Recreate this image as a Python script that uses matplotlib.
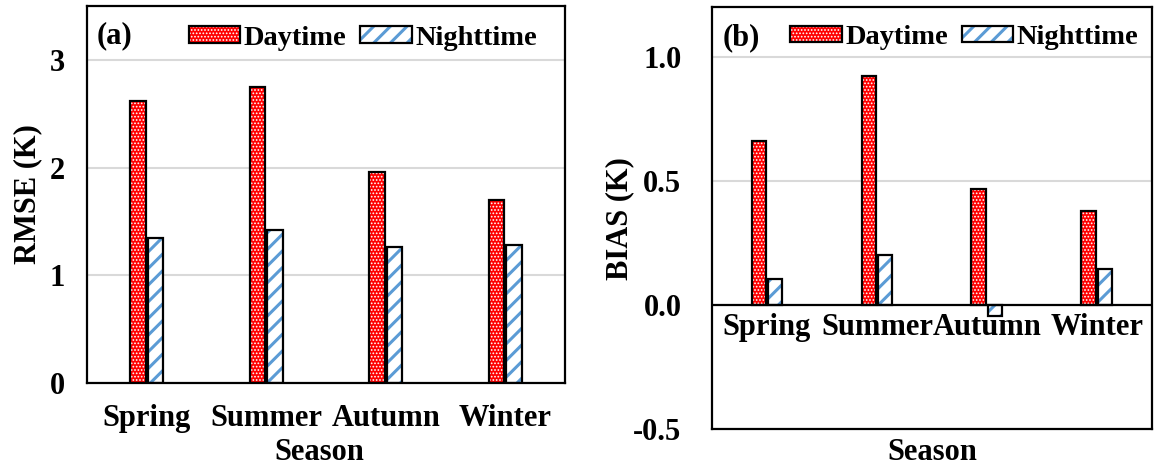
import matplotlib
matplotlib.use("Agg")
import matplotlib.pyplot as plt
import numpy as np
from matplotlib.patches import Patch, Rectangle
from matplotlib.legend_handler import HandlerTuple

seasons = ["Spring", "Summer", "Autumn", "Winter"]
rmse_day = [2.62, 2.75, 1.96, 1.70]
rmse_night = [1.35, 1.42, 1.26, 1.28]
bias_day = [0.662, 0.923, 0.466, 0.380]
bias_night = [0.105, 0.200, -0.045, 0.145]

plt.rcParams['font.family'] = ['Liberation Serif', 'DejaVu Serif']
plt.rcParams['font.weight'] = 'bold'
plt.rcParams['axes.labelweight'] = 'bold'
plt.rcParams['hatch.linewidth'] = 2.2

RED = '#ff0000'
BLUE = '#5b9bd5'
FS = 22
W = 0.13
OFF = 0.075
DOT_LW = 0.8
STRIPE_LW = 2.2


def set_hlw(p, lw):
    if hasattr(p, 'set_hatch_linewidth'):
        p.set_hatch_linewidth(lw)
    return p


def hatched_bars(ax, x, vals, face, hatch_col, hatch, hlw):
    # hatch colour follows edgecolor, so draw fill+hatch first, black outline on top
    bars = ax.bar(x, vals, W, color=face, edgecolor=hatch_col, hatch=hatch, linewidth=0, zorder=2)
    for b in bars:
        set_hlw(b, hlw)
    ax.bar(x, vals, W, fill=False, edgecolor='black', linewidth=1.6, zorder=3)


def add_legend(ax, anchor):
    day_fill = Patch(facecolor=RED, edgecolor='white', hatch='.....', linewidth=0)
    night_fill = Patch(facecolor='white', edgecolor=BLUE, hatch='//', linewidth=0)
    day = (day_fill, Patch(fill=False, edgecolor='black', linewidth=1.6))
    night = (night_fill, Patch(fill=False, edgecolor='black', linewidth=1.6))
    leg = ax.legend([day, night], ["Daytime", "Nighttime"], ncol=2, frameon=False,
                    handler_map={tuple: HandlerTuple(ndivide=1)},
                    loc='center right', bbox_to_anchor=anchor, borderaxespad=0, borderpad=0,
                    prop={'size': 20.5, 'weight': 'bold'}, handlelength=1.8, handleheight=0.5,
                    handletextpad=0.12, columnspacing=0.5)
    for r in leg.findobj(Rectangle):
        if r.get_hatch() == '.....':
            set_hlw(r, DOT_LW)


def style(ax):
    for sp in ax.spines.values():
        sp.set_linewidth(1.6)
    ax.tick_params(length=0, labelsize=FS)
    ax.grid(axis='y', color='#d9d9d9', linewidth=1.5, zorder=0)
    ax.set_axisbelow(True)
    ax.set_xlim(-0.5, len(seasons) - 0.5)


fig = plt.figure(figsize=(11.54, 4.66), dpi=100)
ax1 = fig.add_axes([0.0754, 0.178, 0.4142, 0.809])
ax2 = fig.add_axes([0.617, 0.079, 0.381, 0.906])

x = np.arange(len(seasons))

# (a) RMSE
hatched_bars(ax1, x - OFF, rmse_day, RED, 'white', '.....', DOT_LW)
hatched_bars(ax1, x + OFF, rmse_night, 'white', BLUE, '//', STRIPE_LW)
style(ax1)
ax1.set_ylim(0, 3.5)
ax1.set_yticks([0, 1, 2, 3])
ax1.tick_params(axis='y', pad=16)
ax1.tick_params(axis='x', pad=15)
ax1.set_xticks(x)
ax1.set_xticklabels(seasons)
ax1.set_ylabel("RMSE (K)", fontsize=FS, va='center')
ax1.yaxis.set_label_coords(-0.125, 0.5)
ax1.set_xlabel("Season", fontsize=FS, va='center')
ax1.xaxis.set_label_coords(0.487, -0.183)
ax1.text(0.021, 0.92, "(a)", transform=ax1.transAxes, fontsize=FS, va='center', ha='left')
add_legend(ax1, (0.941, 0.915))

# (b) BIAS
hatched_bars(ax2, x - OFF, bias_day, RED, 'white', '.....', DOT_LW)
hatched_bars(ax2, x + OFF, bias_night, 'white', BLUE, '//', STRIPE_LW)
style(ax2)
ax2.set_ylim(-0.5, 1.2)
ax2.set_yticks([-0.5, 0.0, 0.5, 1.0])
ax2.set_yticklabels(["-0.5", "0.0", "0.5", "1.0"])
ax2.tick_params(axis='y', pad=22)
ax2.axhline(0, color='black', linewidth=1.6, zorder=4)
ax2.set_xticks(x)
ax2.tick_params(axis='x', labelbottom=False)
for xi, s in zip(x, seasons):
    ax2.annotate(s, (xi, 0), xytext=(0, -6), textcoords='offset points',
                 ha='center', va='top', fontsize=FS)
ax2.set_ylabel("BIAS (K)", fontsize=FS, va='center')
ax2.yaxis.set_label_coords(-0.211, 0.5)
ax2.set_xlabel("Season", fontsize=FS, va='center')
ax2.xaxis.set_label_coords(0.5, -0.0545)
ax2.text(0.025, 0.927, "(b)", transform=ax2.transAxes, fontsize=FS, va='center', ha='left')
add_legend(ax2, (0.970, 0.927))

fig.savefig("out.png", dpi=100)
